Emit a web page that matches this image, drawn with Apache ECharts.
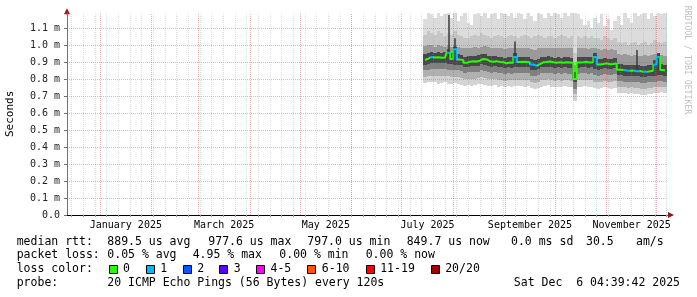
<!DOCTYPE html>
<html><head><meta charset="utf-8">
<script src="https://cdn.jsdelivr.net/npm/echarts@6/dist/echarts.min.js"></script>
<style>html,body{margin:0;padding:0;background:#fff}#c{width:697px;height:297px}</style>
</head><body><div id="c"></div>
<script>
// x values are days since 2024-12-01 00:00; y values are milliseconds
const days = [226,228,230,232,234,236,238,240,242,244,246,248,250,
  252,254,256,258,260,262,264,266,268,270,272,274,276,
  278,280,282,284,286,288,290,292,294,296,298,300,302,
  304,306,308,310,312,314,316,318,320,322,324,326,328,
  330,332,334,336,338,340,342,344,346,348,350,352,354,
  356,358,360,362,364,366,368,370];
const median = [0.912,0.920,0.930,0.926,0.928,0.925,0.927,0.955,0.918,0.975,0.914,0.912,0.895,
  0.902,0.905,0.903,0.908,0.918,0.915,0.905,0.902,0.905,0.900,0.898,0.893,0.897,
  0.895,0.930,0.900,0.902,0.900,0.898,0.885,0.878,0.888,0.898,0.900,0.903,0.898,
  0.895,0.898,0.896,0.898,0.897,0.895,0.800,0.897,0.898,0.900,0.897,0.898,0.930,
  0.885,0.888,0.892,0.887,0.888,0.892,0.855,0.853,0.850,0.848,0.850,0.846,0.847,
  0.843,0.842,0.846,0.848,0.885,0.930,0.853,0.850];
const lossCount = [0,0,1,0,0,0,0,1,0,1,0,0,0,
  0,0,0,0,0,0,0,0,0,0,0,0,0,
  0,1,0,0,0,0,1,1,0,0,0,0,0,
  0,0,0,0,0,0,0,0,0,0,0,0,1,
  0,0,0,0,0,0,0,0,1,1,0,1,1,
  0,1,0,0,1,1,0,0];
const smokeMax = [1.15,1.19,1.18,1.16,1.19,1.17,1.18,1.19,1.16,1.19,1.14,1.17,1.19,
  1.13,1.12,1.18,1.19,1.17,1.19,1.16,1.18,1.19,1.15,1.19,1.18,1.17,
  1.19,1.16,1.19,1.18,1.15,1.19,1.17,1.14,1.19,1.18,1.16,1.19,1.17,
  1.19,1.18,1.16,1.19,1.17,1.19,1.19,1.18,1.15,1.12,1.14,1.10,1.16,
  1.13,1.18,1.11,1.15,1.09,1.14,1.17,1.12,1.19,1.16,1.13,1.19,1.17,
  1.18,1.19,1.15,1.19,1.17,1.19,1.18,1.19];
const smokeUp3 = [1.06,1.08,1.07,1.06,1.08,1.07,1.05,1.07,1.06,1.08,1.06,1.05,1.04,
  1.04,1.05,1.06,1.05,1.07,1.06,1.05,1.04,1.05,1.06,1.05,1.04,1.05,
  1.06,1.05,1.04,1.05,1.06,1.05,1.04,1.05,1.06,1.05,1.04,1.05,1.05,
  1.04,1.05,1.06,1.05,1.04,1.05,0.95,1.05,1.04,1.05,1.04,1.05,1.04,
  1.04,1.03,1.05,1.04,1.03,1.04,1.02,1.01,1.02,1.00,1.01,1.02,1.00,
  1.01,1.02,1.00,1.01,1.03,1.02,1.01,1.02];
const smokeUp2 = [0.995,1.0,1.0,0.99,1.0,0.995,0.99,1.0,0.99,1.0,0.99,0.985,0.98,
  0.98,0.985,0.99,0.985,0.99,0.995,0.99,0.98,0.98,0.985,0.98,0.975,0.98,
  0.98,0.985,0.98,0.98,0.985,0.98,0.975,0.97,0.98,0.985,0.98,0.98,0.985,
  0.98,0.985,0.98,0.985,0.98,0.98,0.88,0.98,0.985,0.98,0.975,0.98,0.985,
  0.975,0.97,0.975,0.97,0.975,0.97,0.945,0.94,0.945,0.94,0.935,0.94,0.935,
  0.935,0.94,0.935,0.94,0.945,0.95,0.94,0.935];
const smokeUp1 = [0.945,0.955,0.96,0.955,0.96,0.955,0.958,0.975,0.95,0.99,0.945,0.942,0.93,
  0.935,0.938,0.935,0.94,0.948,0.945,0.937,0.933,0.936,0.932,0.93,0.925,0.93,
  0.927,0.955,0.93,0.932,0.93,0.928,0.915,0.91,0.92,0.928,0.93,0.933,0.928,
  0.925,0.928,0.926,0.928,0.927,0.925,0.84,0.927,0.928,0.93,0.927,0.928,0.955,
  0.915,0.918,0.922,0.917,0.918,0.922,0.89,0.888,0.885,0.883,0.885,0.881,0.882,
  0.878,0.877,0.88,0.882,0.91,0.95,0.888,0.885];
const smokeLo1 = [0.885,0.89,0.895,0.895,0.896,0.894,0.895,0.89,0.888,0.885,0.884,0.882,0.868,
  0.873,0.876,0.874,0.878,0.886,0.884,0.875,0.872,0.875,0.871,0.869,0.864,0.868,
  0.866,0.87,0.87,0.872,0.87,0.868,0.855,0.85,0.858,0.868,0.87,0.873,0.868,
  0.865,0.868,0.866,0.868,0.867,0.865,0.78,0.867,0.868,0.87,0.867,0.868,0.858,
  0.855,0.858,0.862,0.857,0.858,0.862,0.825,0.823,0.82,0.818,0.82,0.816,0.817,
  0.813,0.812,0.816,0.818,0.82,0.822,0.823,0.82];
const smokeLo2 = [0.85,0.855,0.86,0.86,0.86,0.858,0.86,0.855,0.852,0.85,0.85,0.848,0.835,
  0.84,0.842,0.84,0.843,0.85,0.848,0.84,0.838,0.84,0.836,0.834,0.83,0.833,
  0.832,0.835,0.835,0.837,0.835,0.833,0.82,0.815,0.823,0.833,0.835,0.838,0.833,
  0.83,0.833,0.831,0.833,0.832,0.83,0.74,0.832,0.833,0.835,0.832,0.833,0.825,
  0.82,0.823,0.827,0.822,0.823,0.827,0.79,0.788,0.785,0.783,0.785,0.781,0.782,
  0.778,0.777,0.781,0.783,0.785,0.787,0.788,0.785];
const smokeLo3 = [0.81,0.815,0.82,0.82,0.82,0.818,0.82,0.815,0.812,0.81,0.81,0.808,0.798,
  0.80,0.802,0.80,0.803,0.81,0.808,0.80,0.798,0.80,0.796,0.794,0.79,0.793,
  0.792,0.795,0.795,0.797,0.795,0.793,0.78,0.775,0.783,0.793,0.795,0.798,0.793,
  0.79,0.793,0.791,0.793,0.792,0.79,0.71,0.792,0.793,0.795,0.792,0.793,0.785,
  0.78,0.783,0.787,0.782,0.783,0.787,0.755,0.753,0.75,0.748,0.75,0.746,0.747,
  0.743,0.742,0.746,0.748,0.75,0.752,0.753,0.75];
const smokeMin = [0.775,0.78,0.785,0.78,0.77,0.775,0.78,0.772,0.768,0.775,0.77,0.765,0.76,
  0.765,0.76,0.762,0.768,0.772,0.765,0.76,0.758,0.762,0.755,0.758,0.752,0.756,
  0.755,0.76,0.758,0.76,0.752,0.756,0.745,0.74,0.748,0.755,0.758,0.762,0.755,
  0.752,0.755,0.75,0.756,0.752,0.75,0.67,0.752,0.755,0.758,0.75,0.752,0.745,
  0.742,0.745,0.75,0.745,0.743,0.748,0.72,0.718,0.715,0.712,0.715,0.71,0.712,
  0.708,0.706,0.712,0.714,0.716,0.72,0.722,0.718];
const spikeDays = [240.4,244.0,279.6,314.6,328.0,353.2,363.4,366.4];
const spikeLow  = [0.925,0.915,0.900,0.800,0.890,0.850,0.845,0.850];
const spikeHigh = [1.176,1.040,1.020,0.900,0.940,0.970,0.900,0.940];

const yTicks = [0,0.1,0.2,0.3,0.4,0.5,0.6,0.7,0.8,0.9,1.0,1.1];
const monthStarts = [31,62,90,121,151,182,212,243,274,304,335,365];
const monthLabelDays = [46.5,105.5,166.5,227.5,289,350];
const monthLabels = ['January 2025','March 2025','May 2025','July 2025','September 2025','November 2025'];
const firstSunday = 14; // 2024-12-15
const rttStats = ['889.5 us avg','977.6 us max','797.0 us min','849.7 us now','0.0 ms sd','30.5','am/s'];
const lossStats = ['0.05 % avg','4.95 % max','0.00 % min','0.00 % now'];
const lossLabels = ['0','1','2','3','4-5','6-10','11-19','20/20'];
const lossColors = ['#26ff00','#00b8ff','#0059ff','#5e00ff','#ff00ff','#ff5500','#ff0000','#a00000'];
const probeText = '20 ICMP Echo Pings (56 Bytes) every 120s';
const stampText = 'Sat Dec  6 04:39:42 2025';

const FONT = '"DejaVu Sans Mono", monospace';
const xMin = 11.2, xMax = 371.2, yMax = 1.19, sampleStep = 2;

const weekLines = [];
for (let d = firstSunday; d < xMax; d += 7) weekLines.push(d);

const gridMinor = {color: 'rgba(150,150,150,0.32)', width: 1, type: [1, 1]};
const gridMajor = {color: 'rgba(225,60,60,0.4)', width: 1, type: [1, 1]};
const markData = []
  .concat(weekLines.map(d => ({xAxis: d, lineStyle: gridMinor})))
  .concat(monthStarts.filter(d => d > xMin && d < xMax).map(d => ({xAxis: d, lineStyle: gridMajor})))
  .concat(yTicks.filter(v => v > 0).map(v => ({yAxis: v, lineStyle: gridMajor})));

// smoke: bands between successive ping levels, lowest first
const layers = [smokeMin, smokeLo3, smokeLo2, smokeLo1, smokeUp1, smokeUp2, smokeUp3, smokeMax];
const bandColors = ['#d4d4d4', '#b0b0b0', '#808080', '#484848', '#9a9a9a', '#c6c6c6', '#dcdcdc'];
const smokeData = days.map((d, i) => [d].concat(layers.map(l => l[i])));

const series = [{
  type: 'custom', z: 2, silent: true,
  encode: {x: 0, y: [1, 8]},
  data: smokeData,
  renderItem: function (params, api) {
    const d = api.value(0);
    const x0 = Math.round(api.coord([d - sampleStep / 2, 0])[0]);
    const x1 = Math.round(api.coord([d + sampleStep / 2, 0])[0]);
    const children = [];
    for (let k = 0; k < bandColors.length; k++) {
      const yLo = Math.round(api.coord([d, api.value(k + 1)])[1]);
      const yHi = Math.round(api.coord([d, api.value(k + 2)])[1]);
      if (yLo > yHi) children.push({type: 'rect', shape: {x: x0, y: yHi, width: x1 - x0, height: yLo - yHi},
        style: {fill: bandColors[k]}});
    }
    return {type: 'group', children: children};
  }
}];
series.push({
  type: 'line', data: [], z: 3, silent: true, symbol: 'none',
  markLine: {silent: true, z: 3, symbol: ['none', 'none'], label: {show: false},
    animation: false, data: markData}
});
series.push({
  type: 'lines', coordinateSystem: 'cartesian2d', z: 4, silent: true,
  data: spikeDays.map((d, i) => ({coords: [[d, spikeLow[i]], [d, spikeHigh[i]]]})),
  lineStyle: {color: '#3a3a3a', width: 1.5, opacity: 1}
});
const medianIndex = series.length;
series.push({
  type: 'line', step: 'middle', symbol: 'none', z: 6, silent: true,
  data: days.map((d, i) => [d, median[i]]),
  lineStyle: {width: 2}
});

const pieces = days.map((d, i) => ({gte: d - 1, lt: d + 1, color: lossColors[lossCount[i] > 0 ? 1 : 0]}));

const graphics = [];
function txt(x, y, s, opts) {
  graphics.push(Object.assign({type: 'text', x: x, y: y, silent: true,
    style: Object.assign({text: s, font: '11.5px ' + FONT, fill: '#000', verticalAlign: 'middle', align: 'left'}, opts || {})}));
}
txt(16.7, 241.7, 'median rtt:');
[107.3, 208.3, 307.3, 406.7, 511, 586, 636].forEach((x, i) => txt(x, 241.7, rttStats[i]));
txt(16.7, 255, 'packet loss:');
[107.3, 192.7, 279.3, 365.7].forEach((x, i) => txt(x, 255, lossStats[i]));
txt(16.7, 269, 'loss color:');
[108.5, 145.7, 182.7, 219.3, 256, 307.3, 365.7, 430.7].forEach((x, i) => {
  graphics.push({type: 'rect', silent: true, shape: {x: Math.round(x) + 0.5, y: 265.5, width: 8, height: 8},
    style: {fill: lossColors[i], stroke: '#000', lineWidth: 1}});
  txt(x + 14.5, 269, lossLabels[i]);
});
txt(16.7, 283.3, 'probe:');
txt(107.3, 283.3, probeText);
txt(680, 283.3, stampText, {align: 'right'});
graphics.push({type: 'text', x: 687, y: 60, rotation: -Math.PI / 2, silent: true,
  style: {text: 'RRDTOOL / TOBI OETIKER', font: '8.2px ' + FONT, fill: '#c0c0c0', align: 'center', verticalAlign: 'middle'}});

const chart = echarts.init(document.getElementById('c'), null, {renderer: 'canvas'});
chart.setOption({
  animation: false,
  backgroundColor: '#ffffff',
  grid: {left: 67, right: 30, top: 12.7, bottom: 82, containLabel: false, outerBoundsMode: 'none'},
  xAxis: [{
    type: 'value', min: xMin, max: xMax, position: 'bottom', z: 10,
    axisLine: {show: true, onZero: false, lineStyle: {color: '#000', width: 1}},
    axisTick: {show: true, customValues: weekLines, length: 2, lineStyle: {color: '#999'}},
    axisLabel: {customValues: monthLabelDays, formatter: v => monthLabels[monthLabelDays.indexOf(v)] || '',
      fontFamily: FONT, fontSize: 10, color: '#000', margin: 5, hideOverlap: false},
    splitLine: {show: false}
  }, {
    type: 'value', min: xMin, max: xMax, position: 'bottom', z: 9,
    axisLine: {show: true, onZero: false, symbol: ['none', 'triangle'], symbolSize: [6, 6], symbolOffset: [0, 4],
      lineStyle: {color: '#a01010', width: 1}},
    axisTick: {show: false}, axisLabel: {show: false}, splitLine: {show: false}
  }],
  yAxis: [{
    type: 'value', min: 0, max: yMax, position: 'left', z: 10,
    name: 'Seconds', nameLocation: 'middle', nameRotate: 90, nameGap: 51,
    nameTextStyle: {fontFamily: FONT, fontSize: 11, color: '#000'},
    axisLine: {show: true, lineStyle: {color: '#707070', width: 1}},
    axisTick: {show: true, customValues: yTicks, length: 3, lineStyle: {color: '#707070'}},
    axisLabel: {customValues: yTicks, formatter: v => v === 0 ? '0.0' : v.toFixed(1) + ' m',
      fontFamily: FONT, fontSize: 10, color: '#222', margin: 7},
    splitLine: {show: false}
  }, {
    type: 'value', min: 0, max: yMax, position: 'left', z: 9,
    axisLine: {show: true, symbol: ['none', 'triangle'], symbolSize: [6, 6], symbolOffset: [0, 1.5],
      lineStyle: {color: '#a01010', width: 1}},
    axisTick: {show: false}, axisLabel: {show: false}, splitLine: {show: false}
  }],
  visualMap: {type: 'piecewise', show: false, seriesIndex: medianIndex, dimension: 0, pieces: pieces,
    outOfRange: {color: lossColors[0]}},
  graphic: graphics,
  series: series
});
</script></body></html>
